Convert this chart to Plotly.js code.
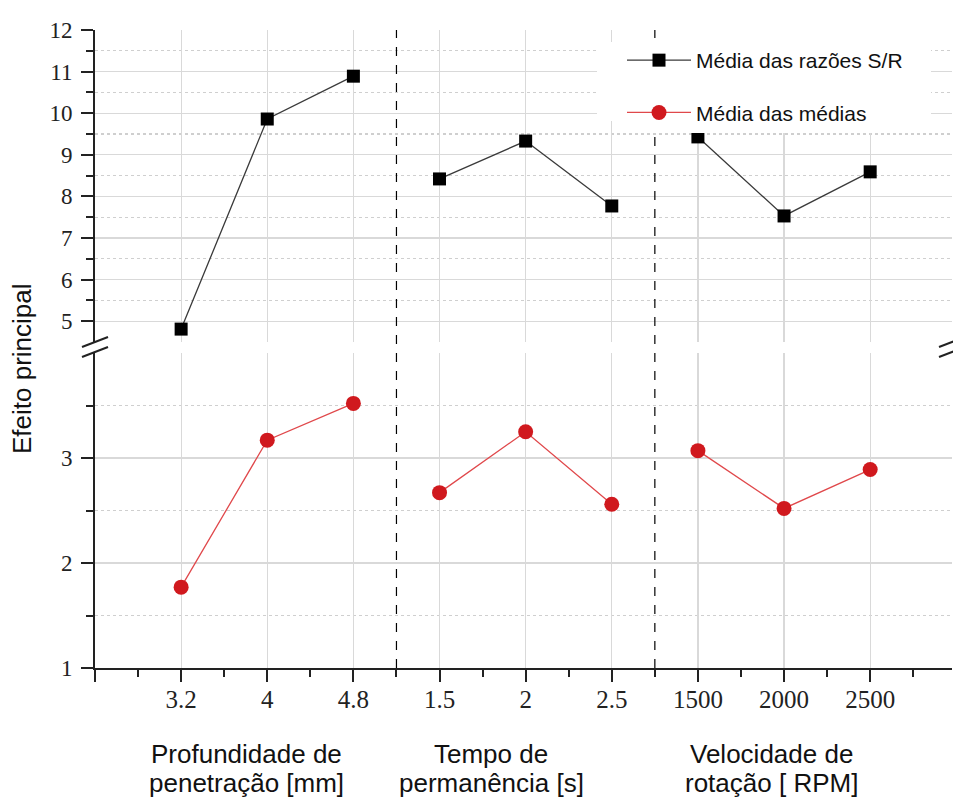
<!DOCTYPE html>
<html><head><meta charset="utf-8">
<script src="https://cdn.plot.ly/plotly-3.0.1.min.js"></script>
<style>html,body{margin:0;padding:0;background:#fff}#chart{width:953px;height:798px}</style>
</head><body><div id="chart"></div>
<script>
// ---- data ----
const categories = ['3.2','4','4.8','1.5','2','2.5','1500','2000','2500'];
const groupSizes = [3, 3, 3];
const factorTitles = [
  ['Profundidade de', 'penetração [mm]'],
  ['Tempo de', 'permanência [s]'],
  ['Velocidade de', 'rotação [ RPM]']
];
const seriesNames = ['Média das razões S/R', 'Média das médias'];
const srMeans   = [4.81, 9.86, 10.89, 8.42, 9.33, 7.77, 9.43, 7.53, 8.59];
const meanMeans = [1.77, 3.17, 3.52, 2.67, 3.25, 2.56, 3.07, 2.52, 2.89];
const upperTicks = [5, 6, 7, 8, 9, 10, 11, 12];
const lowerTicks = [1, 2, 3];

// ---- build segmented series (one line per factor) ----
function segmented(values) {
  const xs = [], ys = [];
  let idx = 0;
  groupSizes.forEach((n, g) => {
    if (g > 0) { xs.push(null); ys.push(null); }
    for (let k = 0; k < n; k++) { xs.push(idx); ys.push(values[idx]); idx++; }
  });
  return {xs, ys};
}
const sr = segmented(srMeans);
const mm = segmented(meanMeans);
const catPos = categories.map((c, i) => i);
const separators = [];
{ let acc = 0; groupSizes.slice(0, -1).forEach(n => { acc += n; separators.push(acc - 0.5); }); }

// ---- geometry helpers (pixel -> paper) ----
const W = 953, H = 798;
const M = {l: 95, r: 1, t: 30, b: 130};
const PW = W - M.l - M.r, PH = H - M.t - M.b;
const px = x => (x - M.l) / PW;
const py = y => (H - M.b - y) / PH;

const xRange = [-1, 8.95];
const upperRange = [4.5, 12];
const lowerRange = [1, 4];
const upperDomain = [py(342), 1];
const lowerDomain = [0, py(353)];

const axisColor = '#222';
const gridColor = '#d9d9d9';
const minorGrid = '#cfcfcf';
const tickFontX = {family: 'Liberation Serif, Times New Roman, serif', size: 25, color: '#222'};
const tickFontY = {family: 'Liberation Serif, Times New Roman, serif', size: 23, color: '#222'};
const sans = 'Liberation Sans, Arial, sans-serif';

const halfSteps = (arr) => arr.slice(0, -1).map(v => v + 0.5);
const xMinor = [-0.5].concat(catPos.map(v => v + 0.5));

const traces = [
  {
    x: sr.xs, y: sr.ys, xaxis: 'x', yaxis: 'y2', type: 'scatter', mode: 'lines+markers',
    name: seriesNames[0], legendgroup: 'a', connectgaps: false,
    line: {color: '#3a3a3a', width: 1.3},
    marker: {symbol: 'square', size: 13, color: '#000'}
  },
  {
    x: mm.xs, y: mm.ys, xaxis: 'x', yaxis: 'y', type: 'scatter', mode: 'lines+markers',
    name: seriesNames[1], legendgroup: 'b', connectgaps: false,
    line: {color: '#e0484b', width: 1.3},
    marker: {symbol: 'circle', size: 15, color: '#d0191e'}
  }
];

const tickValsX = [-1].concat(catPos);
const tickTextX = [''].concat(categories);

const layout = {
  width: W, height: H,
  margin: M,
  paper_bgcolor: '#fff', plot_bgcolor: '#fff',
  showlegend: true,
  legend: {
    x: px(622), y: py(40), xanchor: 'left', yanchor: 'top',
    bgcolor: 'rgba(0,0,0,0)', borderwidth: 0,
    font: {family: sans, size: 21, color: '#111'},
    tracegroupgap: 22, traceorder: 'grouped', itemwidth: 64
  },
  xaxis: {
    range: xRange, anchor: 'y', domain: [0, 1],
    tickmode: 'array', tickvals: tickValsX, ticktext: tickTextX,
    ticks: 'outside', ticklen: 12, tickwidth: 2, tickcolor: axisColor,
    ticklabelstandoff: -4, tickfont: tickFontX,
    showline: true, linecolor: axisColor, linewidth: 2,
    showgrid: true, gridcolor: gridColor, gridwidth: 1.2,
    zeroline: false,
    minor: {tickmode: 'array', tickvals: xMinor, ticks: 'outside', ticklen: 7, tickwidth: 2, tickcolor: axisColor, showgrid: false}
  },
  xaxis2: {
    range: xRange, overlaying: 'x', side: 'top', anchor: 'y2',
    tickmode: 'array', tickvals: tickValsX, showticklabels: false,
    ticks: 'inside', ticklen: 12, tickwidth: 2, tickcolor: axisColor,
    showline: true, linecolor: axisColor, linewidth: 2,
    showgrid: false, zeroline: false,
    minor: {tickmode: 'array', tickvals: xMinor, ticks: 'inside', ticklen: 7, tickwidth: 2, tickcolor: axisColor, showgrid: false}
  },
  yaxis: {
    range: lowerRange, domain: lowerDomain, anchor: 'x',
    tickmode: 'array', tickvals: lowerTicks,
    ticks: 'outside', ticklen: 12, tickwidth: 2, tickcolor: axisColor,
    ticklabelstandoff: 4, tickfont: tickFontY,
    showline: true, linecolor: axisColor, linewidth: 2,
    showgrid: true, gridcolor: gridColor, gridwidth: 1.2, zeroline: false,
    minor: {tickmode: 'array', tickvals: halfSteps(lowerTicks.concat([4])), ticks: 'outside', ticklen: 7, tickwidth: 2, tickcolor: axisColor,
            showgrid: true, gridcolor: minorGrid, griddash: 'dot', gridwidth: 1.2}
  },
  yaxis2: {
    range: upperRange, domain: upperDomain, anchor: 'x',
    tickmode: 'array', tickvals: upperTicks,
    ticks: 'outside', ticklen: 12, tickwidth: 2, tickcolor: axisColor,
    ticklabelstandoff: 4, tickfont: tickFontY,
    showline: true, linecolor: axisColor, linewidth: 2,
    showgrid: true, gridcolor: gridColor, gridwidth: 1.2, zeroline: false,
    minor: {tickmode: 'array', tickvals: halfSteps(upperTicks), ticks: 'outside', ticklen: 7, tickwidth: 2, tickcolor: axisColor,
            showgrid: true, gridcolor: minorGrid, griddash: 'dot', gridwidth: 1.2}
  },
  yaxis3: {
    range: lowerRange, overlaying: 'y', side: 'right', anchor: 'x',
    tickmode: 'array', tickvals: lowerTicks, showticklabels: false,
    ticks: 'inside', ticklen: 12, tickwidth: 2, tickcolor: axisColor,
    showline: true, linecolor: axisColor, linewidth: 2, showgrid: false, zeroline: false,
    minor: {tickmode: 'array', tickvals: halfSteps(lowerTicks.concat([4])), ticks: 'inside', ticklen: 7, tickwidth: 2, tickcolor: axisColor, showgrid: false}
  },
  yaxis4: {
    range: upperRange, overlaying: 'y2', side: 'right', anchor: 'x',
    tickmode: 'array', tickvals: upperTicks, showticklabels: false,
    ticks: 'inside', ticklen: 12, tickwidth: 2, tickcolor: axisColor,
    showline: true, linecolor: axisColor, linewidth: 2, showgrid: false, zeroline: false,
    minor: {tickmode: 'array', tickvals: halfSteps(upperTicks), ticks: 'inside', ticklen: 7, tickwidth: 2, tickcolor: axisColor, showgrid: false}
  },
  shapes: [],
  annotations: []
};

// dashed separators between factors
separators.forEach(s => layout.shapes.push({
  type: 'line', xref: 'x', yref: 'paper', x0: s, x1: s, y0: 0, y1: 1,
  line: {color: '#000', width: 1.2, dash: 'dash'}, layer: 'above'
}));

// white patch behind legend (as in the reference)
const whitePatches = [
  [597, 645, 42, 121],
  [645, 931, 42, 133],
  [674, 931, 24, 42]
];
whitePatches.forEach(r => layout.shapes.push({
  type: 'rect', xref: 'paper', yref: 'paper', x0: px(r[0]), x1: px(r[1]), y0: py(r[3]), y1: py(r[2]),
  fillcolor: '#fff', line: {width: 0}, layer: 'above'
}));

// axis break marks on both y axes
[95, 952].forEach(ax => {
  [342, 352].forEach(cy => {
    layout.shapes.push({type: 'line', xref: 'paper', yref: 'paper',
      x0: px(ax - 13), y0: py(cy + 5), x1: px(ax + 13), y1: py(cy - 5),
      line: {color: axisColor, width: 2}, layer: 'above'});
  });
});

// factor titles under the axis
const titleCenters = [246, 491, 771];
factorTitles.forEach((lines, i) => {
  lines.forEach((t, j) => layout.annotations.push({
    text: t, xref: 'paper', yref: 'paper', x: px(titleCenters[i]), y: py(j === 0 ? 754 : 783),
    xanchor: 'center', yanchor: 'middle', showarrow: false,
    font: {family: sans, size: 26, color: '#111'}
  }));
});

// y title
layout.annotations.push({
  text: 'Efeito principal', xref: 'paper', yref: 'paper', x: px(22), y: py(369),
  xanchor: 'center', yanchor: 'middle', textangle: -90, showarrow: false,
  font: {family: sans, size: 26, color: '#111'}
});

Plotly.newPlot('chart', traces, layout, {displayModeBar: false, staticPlot: true});
</script>
</body></html>
